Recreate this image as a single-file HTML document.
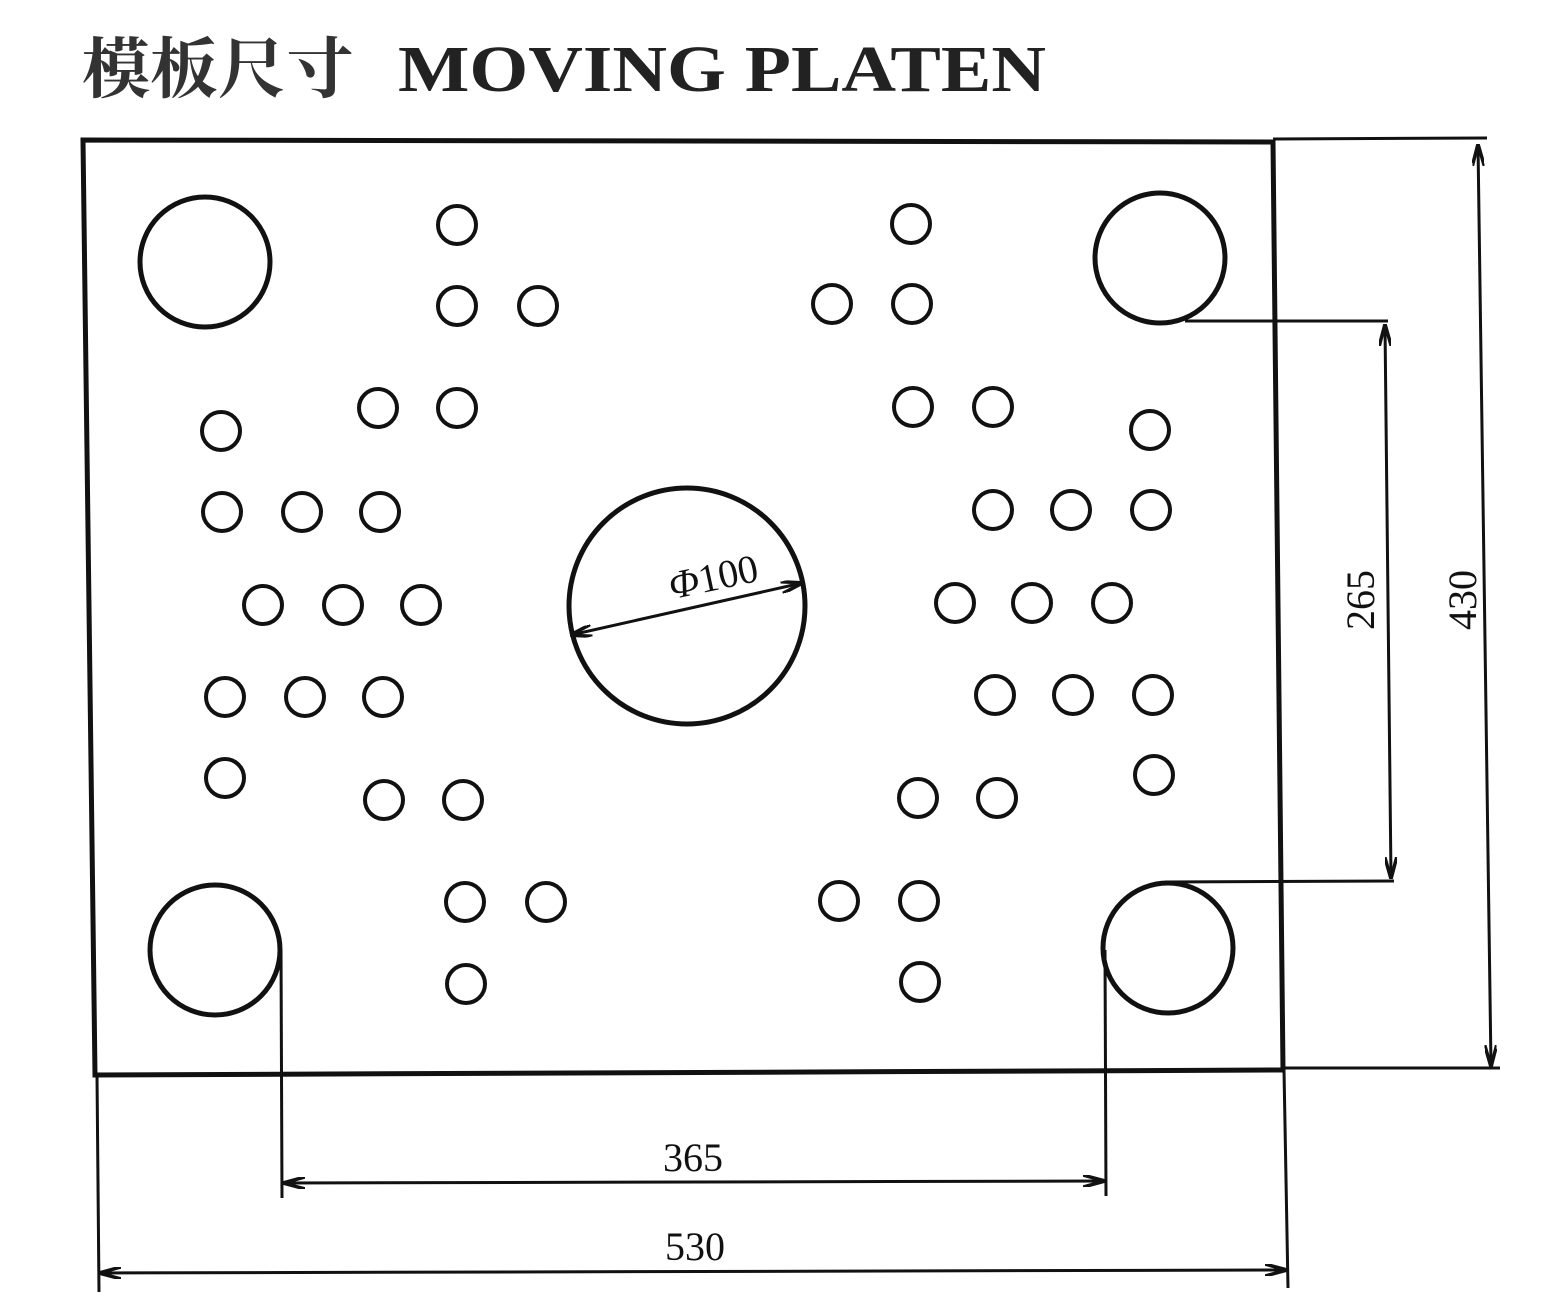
<!DOCTYPE html>
<html><head><meta charset="utf-8"><style>
html,body{margin:0;padding:0;background:#fff;}
svg{display:block;}
</style></head><body>
<svg width="1564" height="1300" viewBox="0 0 1564 1300" xmlns="http://www.w3.org/2000/svg">
<defs>
<marker id="a" viewBox="0 0 22 12" refX="21" refY="6" markerWidth="22" markerHeight="12" orient="auto-start-reverse" markerUnits="userSpaceOnUse">
<path d="M0,0 L22,6 L0,12" fill="none" stroke="#111" stroke-width="3.5"/>
</marker>
</defs>
<text x="82" y="92" font-family="Liberation Serif, 'Noto Serif CJK SC', serif" font-weight="bold" font-size="66" fill="#333" textLength="272" lengthAdjust="spacingAndGlyphs">模板尺寸</text>
<text x="398" y="91" font-family="Liberation Serif, serif" font-weight="bold" font-size="66" fill="#222" textLength="648" lengthAdjust="spacingAndGlyphs">MOVING PLATEN</text>
<g fill="none" stroke="#111">
<polygon points="83,140 1273,142 1283,1070 95,1075" stroke-width="5"/>
<line x1="1273" y1="139" x2="1487" y2="138" stroke-width="3"/>
<g stroke-width="5">
<circle cx="205" cy="262" r="65"/><circle cx="1160" cy="258" r="65"/>
<circle cx="215" cy="950" r="65"/><circle cx="1168" cy="948" r="65"/>
<circle cx="687" cy="606" r="118"/>
</g>
<g stroke-width="4">
<circle cx="457" cy="225" r="19"/><circle cx="457" cy="306" r="19"/><circle cx="538" cy="306" r="19"/>
<circle cx="378" cy="408" r="19"/><circle cx="457" cy="408" r="19"/>
<circle cx="221" cy="431" r="19"/>
<circle cx="222" cy="512" r="19"/><circle cx="302" cy="512" r="19"/><circle cx="380" cy="512" r="19"/>
<circle cx="263" cy="605" r="19"/><circle cx="343" cy="605" r="19"/><circle cx="421" cy="605" r="19"/>
<circle cx="225" cy="697" r="19"/><circle cx="305" cy="697" r="19"/><circle cx="383" cy="697" r="19"/>
<circle cx="225" cy="778" r="19"/>
<circle cx="384" cy="800" r="19"/><circle cx="463" cy="800" r="19"/>
<circle cx="465" cy="902" r="19"/><circle cx="546" cy="902" r="19"/>
<circle cx="466" cy="984" r="19"/>
<circle cx="911" cy="224" r="19"/>
<circle cx="832" cy="304" r="19"/><circle cx="912" cy="304" r="19"/>
<circle cx="913" cy="407" r="19"/><circle cx="993" cy="407" r="19"/>
<circle cx="1150" cy="430" r="19"/>
<circle cx="993" cy="510" r="19"/><circle cx="1071" cy="510" r="19"/><circle cx="1151" cy="510" r="19"/>
<circle cx="955" cy="603" r="19"/><circle cx="1032" cy="603" r="19"/><circle cx="1112" cy="603" r="19"/>
<circle cx="995" cy="695" r="19"/><circle cx="1073" cy="695" r="19"/><circle cx="1153" cy="695" r="19"/>
<circle cx="1154" cy="775" r="19"/>
<circle cx="918" cy="798" r="19"/><circle cx="997" cy="798" r="19"/>
<circle cx="839" cy="901" r="19"/><circle cx="919" cy="901" r="19"/>
<circle cx="920" cy="982" r="19"/>
</g>
<g stroke-width="3">
<line x1="1185" y1="321" x2="1388" y2="321"/>
<line x1="1165" y1="882" x2="1394" y2="881"/>
<line x1="1385" y1="325" x2="1391" y2="878" marker-start="url(#a)" marker-end="url(#a)"/>
<line x1="1285" y1="1068" x2="1500" y2="1068"/>
<line x1="1478" y1="145" x2="1491" y2="1066" marker-start="url(#a)" marker-end="url(#a)"/>
<line x1="281" y1="950" x2="282" y2="1198"/>
<line x1="1105" y1="950" x2="1106" y2="1196"/>
<line x1="284" y1="1183" x2="1104" y2="1181" marker-start="url(#a)" marker-end="url(#a)"/>
<line x1="97" y1="1075" x2="99" y2="1292"/>
<line x1="1284" y1="1070" x2="1288" y2="1288"/>
<line x1="100" y1="1273" x2="1286" y2="1270" marker-start="url(#a)" marker-end="url(#a)"/>
<line x1="571" y1="635" x2="802" y2="583" marker-start="url(#a)" marker-end="url(#a)"/>
</g>
</g>
<g font-family="Liberation Serif, serif" font-size="40" fill="#111" text-anchor="middle">
<text x="693" y="1171">365</text>
<text x="695" y="1260">530</text>
<text transform="translate(1374,600) rotate(-90)">265</text>
<text transform="translate(1476,600) rotate(-90)">430</text>
<text transform="translate(716,590) rotate(-12)"><tspan font-style="italic">Φ</tspan>100</text>
</g>
</svg>
</body></html>
